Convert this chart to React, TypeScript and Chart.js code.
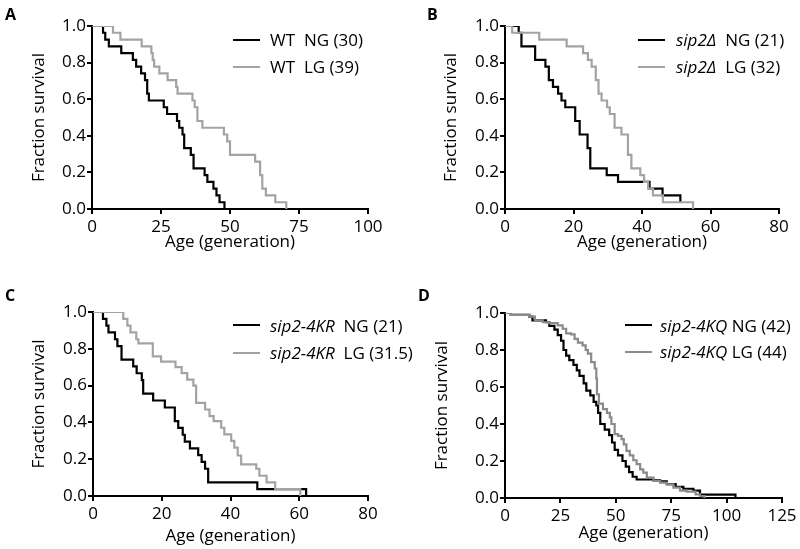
import React, { useEffect, useRef } from "react";
import { Chart, registerables } from "chart.js";

Chart.register(...registerables);

const FONT = "'Open Sans', sans-serif";

// ---------- Panel A: WT ----------
const A_NG_AGE = [0, 4.0, 4.8, 6.1, 10.6, 14.8, 16.0, 17.8, 19.2, 20.0, 20.6, 26.0, 27.2, 30.8, 31.6, 32.8, 33.4, 35.8, 36.8, 40.8, 41.8, 44.0, 45.1, 46.2, 48.0];
const A_NG_SURV = [1, 0.963, 0.926, 0.889, 0.852, 0.815, 0.778, 0.741, 0.704, 0.63, 0.593, 0.556, 0.519, 0.481, 0.444, 0.407, 0.333, 0.296, 0.222, 0.185, 0.148, 0.111, 0.074, 0.037, 0];
const A_LG_AGE = [0, 7.6, 10.3, 18.0, 21.5, 22.0, 22.5, 24.4, 27.4, 30.5, 31.0, 36.4, 37.2, 38.2, 40.0, 47.8, 49.0, 50.0, 59.1, 60.9, 61.7, 63.0, 66.4, 70.4];
const A_LG_SURV = [1, 0.963, 0.926, 0.889, 0.852, 0.815, 0.778, 0.741, 0.704, 0.667, 0.63, 0.593, 0.556, 0.481, 0.444, 0.407, 0.37, 0.296, 0.259, 0.185, 0.111, 0.074, 0.037, 0];

// ---------- Panel B: sip2Δ ----------
const B_NG_AGE = [0, 4.0, 4.8, 8.8, 11.8, 12.8, 14.0, 15.5, 16.5, 17.6, 20.5, 21.8, 24.1, 24.9, 29.7, 33.0, 42.2, 46.0, 51.2];
const B_NG_SURV = [1, 0.963, 0.889, 0.815, 0.778, 0.704, 0.667, 0.63, 0.593, 0.556, 0.481, 0.407, 0.333, 0.222, 0.185, 0.148, 0.111, 0.074, 0.037];
const B_LG_AGE = [0, 2.1, 10.0, 18.0, 22.8, 24.2, 25.3, 26.5, 27.3, 28.2, 29.8, 30.6, 32.0, 34.0, 35.9, 36.9, 39.5, 40.6, 41.8, 43.2, 46.1, 54.9];
const B_LG_SURV = [1, 0.963, 0.926, 0.889, 0.852, 0.815, 0.778, 0.704, 0.63, 0.593, 0.556, 0.519, 0.444, 0.407, 0.296, 0.222, 0.185, 0.148, 0.111, 0.074, 0.037, 0];

// ---------- Panel C: sip2-4KR ----------
const C_NG_AGE = [0, 2.9, 3.9, 4.5, 6.4, 7.1, 8.3, 11.7, 12.7, 14.2, 14.6, 17.5, 20.9, 23.8, 24.8, 26.1, 26.7, 28.2, 30.6, 31.6, 32.6, 33.5, 47.8, 62.0];
const C_NG_SURV = [1, 0.963, 0.926, 0.889, 0.852, 0.815, 0.741, 0.704, 0.667, 0.63, 0.556, 0.519, 0.481, 0.407, 0.37, 0.333, 0.296, 0.259, 0.222, 0.185, 0.148, 0.074, 0.037, 0];
const C_LG_AGE = [0, 8.8, 10.0, 10.9, 12.6, 13.2, 17.4, 19.8, 24.0, 25.8, 27.4, 29.2, 30.0, 32.6, 33.9, 35.1, 37.3, 38.2, 40.2, 41.1, 42.1, 43.1, 47.5, 48.4, 50.5, 53.0, 60.3];
const C_LG_SURV = [1, 0.963, 0.926, 0.889, 0.852, 0.83, 0.759, 0.73, 0.7, 0.668, 0.632, 0.6, 0.506, 0.47, 0.434, 0.407, 0.371, 0.335, 0.3, 0.263, 0.22, 0.172, 0.148, 0.11, 0.074, 0.037, 0];

// ---------- Panel D: sip2-4KQ ----------
const D_NG_AGE = [0, 2.6, 11.0, 12.4, 18.5, 20.0, 22.3, 23.8, 25.3, 26.4, 27.6, 29.0, 30.9, 32.4, 33.6, 35.5, 36.7, 38.5, 40.0, 41.2, 42.0, 43.0, 45.0, 47.0, 48.3, 49.5, 51.0, 53.0, 54.5, 56.0, 57.6, 59.4, 67.0, 70.0, 73.0, 77.0, 80.5, 85.0, 88.0, 104.0];
const D_NG_SURV = [1, 0.99, 0.98, 0.96, 0.95, 0.93, 0.91, 0.88, 0.85, 0.8, 0.77, 0.745, 0.72, 0.69, 0.66, 0.62, 0.58, 0.555, 0.52, 0.5, 0.46, 0.4, 0.37, 0.34, 0.3, 0.26, 0.23, 0.2, 0.17, 0.14, 0.115, 0.1, 0.095, 0.09, 0.075, 0.06, 0.05, 0.04, 0.018, 0];
const D_LG_AGE = [0, 2.6, 11.0, 13.5, 17.0, 20.0, 23.8, 26.0, 27.6, 29.8, 31.4, 32.9, 35.0, 36.4, 37.4, 38.9, 40.5, 41.2, 41.5, 42.4, 44.2, 46.0, 47.3, 48.0, 49.5, 51.0, 52.6, 53.6, 54.8, 56.3, 57.9, 59.4, 61.0, 62.4, 64.0, 67.0, 70.0, 73.0, 76.0, 79.0, 82.0, 86.0, 88.0, 90.0];
const D_LG_SURV = [1, 0.99, 0.98, 0.96, 0.95, 0.945, 0.933, 0.915, 0.89, 0.885, 0.86, 0.84, 0.825, 0.8, 0.78, 0.735, 0.7, 0.645, 0.56, 0.51, 0.48, 0.46, 0.436, 0.4, 0.345, 0.336, 0.318, 0.29, 0.255, 0.23, 0.204, 0.183, 0.155, 0.137, 0.11, 0.092, 0.083, 0.074, 0.056, 0.04, 0.035, 0.02, 0.01, 0];

const BLACK = "#000000";
const GRAY_LIGHT = "#a3a3a3";
const GRAY_DARK = "#8a8a8a";

type Pt = { x: number; y: number };
const pts = (ages: number[], surv: number[]): Pt[] => ages.map((a, i) => ({ x: a, y: surv[i] }));

type PanelProps = {
  left: number;
  top: number;
  w: number;
  h: number;
  area: { l: number; t: number; r: number; b: number };
  xMax: number;
  xStep: number;
  ng: Pt[];
  lg: Pt[];
  lgColor: string;
  yTitlePad: number;
  xTitlePad: number;
};

function Panel(p: PanelProps) {
  const ref = useRef<HTMLCanvasElement | null>(null);
  useEffect(() => {
    if (!ref.current) return;
    const axisFont = { family: FONT, size: 17 };
    const chart = new Chart(ref.current, {
      type: "line",
      data: {
        datasets: [
          {
            data: p.lg,
            borderColor: p.lgColor,
            borderWidth: 2.2,
            stepped: true,
            pointRadius: 0,
            fill: false,
          },
          {
            data: p.ng,
            borderColor: BLACK,
            borderWidth: 2.2,
            stepped: true,
            pointRadius: 0,
            fill: false,
          },
        ],
      },
      options: {
        animation: false,
        responsive: false,
        maintainAspectRatio: false,
        parsing: false as any,
        layout: {
          padding: { left: 0, top: p.area.t, right: p.w - p.area.r, bottom: 0 },
        },
        plugins: { legend: { display: false }, tooltip: { enabled: false } },
        scales: {
          x: {
            type: "linear",
            min: 0,
            max: p.xMax,
            afterFit: (s: any) => {
              s.height = p.h - p.area.b;
            },
            ticks: {
              stepSize: p.xStep,
              color: BLACK,
              font: axisFont,
              padding: 3,
              maxRotation: 0,
            },
            grid: {
              drawOnChartArea: false,
              drawTicks: true,
              tickLength: 5,
              color: BLACK,
              lineWidth: 2,
            },
            border: { display: true, color: BLACK, width: 2 },
            title: {
              display: true,
              text: "Age (generation)",
              color: BLACK,
              font: axisFont,
              padding: { top: 0, bottom: p.xTitlePad },
            },
          },
          y: {
            type: "linear",
            min: 0,
            max: 1,
            afterFit: (s: any) => {
              s.width = p.area.l;
            },
            ticks: {
              stepSize: 0.2,
              color: BLACK,
              font: axisFont,
              padding: 1,
              callback: (v: any) => Number(v).toFixed(1),
            },
            grid: {
              drawOnChartArea: false,
              drawTicks: true,
              tickLength: 5,
              color: BLACK,
              lineWidth: 2,
            },
            border: { display: true, color: BLACK, width: 2 },
            title: {
              display: true,
              text: "Fraction survival",
              color: BLACK,
              font: axisFont,
              padding: { top: p.yTitlePad, bottom: 0 },
            },
          },
        },
      },
    } as any);
    return () => chart.destroy();
  }, []);
  return (
    <canvas
      ref={ref}
      width={p.w}
      height={p.h}
      style={{ position: "absolute", left: p.left, top: p.top, width: p.w, height: p.h }}
    />
  );
}

type LegendRow = { y: number; color: string; italic: string; rest: string };

function Legend({ lineX, textX, rows }: { lineX: number; textX: number; rows: LegendRow[] }) {
  return (
    <>
      {rows.map((r, i) => (
        <div
          key={i}
          style={{
            position: "absolute",
            left: lineX,
            top: r.y - 10,
            height: 20,
            display: "flex",
            alignItems: "center",
            whiteSpace: "pre",
            fontFamily: FONT,
            fontSize: 17,
            color: BLACK,
          }}
        >
          <div style={{ width: 27, height: 2, background: r.color, marginRight: textX - lineX - 27 }} />
          <span>
            {r.italic ? <i>{r.italic}</i> : null}
            {r.rest}
          </span>
        </div>
      ))}
    </>
  );
}

function Letter({ x, y, t }: { x: number; y: number; t: string }) {
  return (
    <div
      style={{
        position: "absolute",
        left: x,
        top: y,
        fontFamily: FONT,
        fontWeight: 700,
        fontSize: 16,
        lineHeight: "16px",
        color: BLACK,
      }}
    >
      {t}
    </div>
  );
}

export default function App() {
  return (
    <div
      style={{
        position: "fixed",
        left: 0,
        top: 0,
        width: 800,
        height: 549,
        background: "#ffffff",
        overflow: "hidden",
      }}
    >
      <Panel
        left={0}
        top={0}
        w={400}
        h={270}
        area={{ l: 92, t: 26, r: 368, b: 209 }}
        xMax={100}
        xStep={25}
        ng={pts(A_NG_AGE, A_NG_SURV)}
        lg={pts(A_LG_AGE, A_LG_SURV)}
        lgColor={GRAY_LIGHT}
        yTitlePad={28.8}
        xTitlePad={17.8}
      />
      <Panel
        left={400}
        top={0}
        w={400}
        h={270}
        area={{ l: 105, t: 26, r: 379, b: 209 }}
        xMax={80}
        xStep={20}
        ng={pts(B_NG_AGE, B_NG_SURV)}
        lg={pts(B_LG_AGE, B_LG_SURV)}
        lgColor={GRAY_LIGHT}
        yTitlePad={40.8}
        xTitlePad={17.8}
      />
      <Panel
        left={0}
        top={270}
        w={400}
        h={279}
        area={{ l: 93, t: 42, r: 368, b: 226 }}
        xMax={80}
        xStep={20}
        ng={pts(C_NG_AGE, C_NG_SURV)}
        lg={pts(C_LG_AGE, C_LG_SURV)}
        lgColor={GRAY_LIGHT}
        yTitlePad={28.8}
        xTitlePad={2.8}
      />
      <Panel
        left={400}
        top={270}
        w={400}
        h={279}
        area={{ l: 105, t: 43, r: 382, b: 228 }}
        xMax={125}
        xStep={25}
        ng={pts(D_NG_AGE, D_NG_SURV)}
        lg={pts(D_LG_AGE, D_LG_SURV)}
        lgColor={GRAY_DARK}
        yTitlePad={31.8}
        xTitlePad={5.8}
      />

      <Legend
        lineX={233}
        textX={270}
        rows={[
          { y: 39.5, color: BLACK, italic: "", rest: "WT  NG (30)" },
          { y: 66.5, color: GRAY_LIGHT, italic: "", rest: "WT  LG (39)" },
        ]}
      />
      <Legend
        lineX={638}
        textX={676}
        rows={[
          { y: 39.5, color: BLACK, italic: "sip2Δ", rest: "  NG (21)" },
          { y: 66.5, color: GRAY_LIGHT, italic: "sip2Δ", rest: "  LG (32)" },
        ]}
      />
      <Legend
        lineX={233}
        textX={270}
        rows={[
          { y: 325, color: BLACK, italic: "sip2-4KR", rest: "  NG (21)" },
          { y: 352.5, color: GRAY_LIGHT, italic: "sip2-4KR", rest: "  LG (31.5)" },
        ]}
      />
      <Legend
        lineX={625}
        textX={660}
        rows={[
          { y: 325, color: BLACK, italic: "sip2-4KQ", rest: " NG (42)" },
          { y: 351.5, color: GRAY_DARK, italic: "sip2-4KQ", rest: " LG (44)" },
        ]}
      />

      <Letter x={5} y={5.5} t="A" />
      <Letter x={427} y={5.5} t="B" />
      <Letter x={5} y={286.5} t="C" />
      <Letter x={418} y={286.5} t="D" />
    </div>
  );
}
